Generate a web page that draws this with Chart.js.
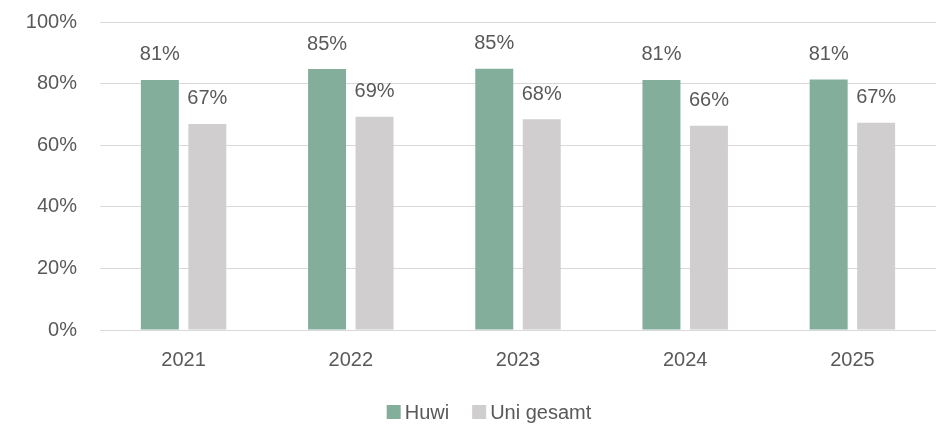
<!DOCTYPE html>
<html>
<head>
<meta charset="utf-8">
<title>Huwi vs Uni gesamt</title>
<script src="https://cdn.jsdelivr.net/npm/chart.js@4/dist/chart.umd.min.js"></script>
<style>
  html, body { margin: 0; padding: 0; background: #ffffff; }
  #wrap { width: 946px; height: 427px; }
</style>
</head>
<body>
<div id="wrap"><canvas id="myChart" width="946" height="427"></canvas></div>
<script>
// data
const years = ['2021', '2022', '2023', '2024', '2025'];
const huwi = [81.2, 84.7, 84.8, 81.2, 81.3];
const uniGesamt = [66.9, 69.2, 68.4, 66.3, 67.3];
const huwiLabels = ['81%', '85%', '85%', '81%', '81%'];
const uniLabels = ['67%', '69%', '68%', '66%', '67%'];
const yTicks = [0, 20, 40, 60, 80, 100];

const textColor = '#595959';
const gridColor = '#D9D9D9';
const fontFamily = '"Liberation Sans", Arial, sans-serif';

// value labels above the bars
const barLabels = {
  id: 'barLabels',
  afterDatasetsDraw(chart) {
    const ctx = chart.ctx;
    const texts = [huwiLabels, uniLabels];
    ctx.save();
    ctx.font = '20px ' + fontFamily;
    ctx.fillStyle = textColor;
    ctx.textAlign = 'center';
    ctx.textBaseline = 'middle';
    chart.data.datasets.forEach(function (ds, i) {
      chart.getDatasetMeta(i).data.forEach(function (bar, j) {
        ctx.fillText(texts[i][j], bar.x, bar.y - 25);
      });
    });
    ctx.restore();
  }
};

// legend at the bottom, drawn by hand so it can sit a bit right of centre
const bottomLegend = {
  id: 'bottomLegend',
  afterDraw(chart) {
    const ctx = chart.ctx;
    const box = 14, gapText = 4, gapItem = 23;
    const cy = 412, centerX = 489;
    ctx.save();
    ctx.font = '20px ' + fontFamily;
    ctx.textBaseline = 'middle';
    ctx.textAlign = 'left';
    const items = chart.data.datasets.map(function (ds) {
      return { text: ds.label, color: ds.backgroundColor, w: ctx.measureText(ds.label).width };
    });
    let total = 0;
    items.forEach(function (it, i) {
      total += box + gapText + it.w + (i > 0 ? gapItem : 0);
    });
    let x = centerX - total / 2;
    items.forEach(function (it) {
      ctx.fillStyle = it.color;
      ctx.fillRect(x, cy - box / 2, box, box);
      x += box + gapText;
      ctx.fillStyle = textColor;
      ctx.fillText(it.text, x, cy + 1);
      x += it.w + gapItem;
    });
    ctx.restore();
  }
};

Chart.defaults.font.family = fontFamily;
Chart.defaults.font.size = 20;
Chart.defaults.color = textColor;

const data = {
  labels: years,
  datasets: [{
    label: 'Huwi',
    data: huwi,
    backgroundColor: '#84AE9C',
    categoryPercentage: 0.568,
    barPercentage: 0.8
  }, {
    label: 'Uni gesamt',
    data: uniGesamt,
    backgroundColor: '#D0CECE',
    categoryPercentage: 0.568,
    barPercentage: 0.8
  }]
};

const config = {
  type: 'bar',
  data: data,
  plugins: [barLabels, bottomLegend],
  options: {
    responsive: false,
    animation: false,
    layout: { padding: { top: 22, right: 10, left: 0, bottom: 55 } },
    plugins: {
      tooltip: { enabled: false },
      legend: { display: false }
    },
    scales: {
      x: {
        grid: { display: false, drawTicks: false },
        border: { display: false },
        ticks: { padding: 18, color: textColor },
        afterFit: function (scale) { scale.height = 42; }
      },
      y: {
        min: 0,
        max: 100,
        grid: { color: gridColor, lineWidth: 1, drawTicks: false },
        border: { display: false },
        afterBuildTicks: function (scale) {
          scale.ticks = yTicks.map(function (v) { return { value: v }; });
        },
        ticks: {
          padding: 23,
          color: textColor,
          callback: function (v) { return v + '%'; }
        },
        afterFit: function (scale) {
          scale.width = 100;
          // tick padding should not push the plot down
          scale.paddingTop = 0;
          scale.paddingBottom = 0;
        }
      }
    }
  }
};

var myChart = new Chart(document.getElementById('myChart'), config);
</script>
</body>
</html>
